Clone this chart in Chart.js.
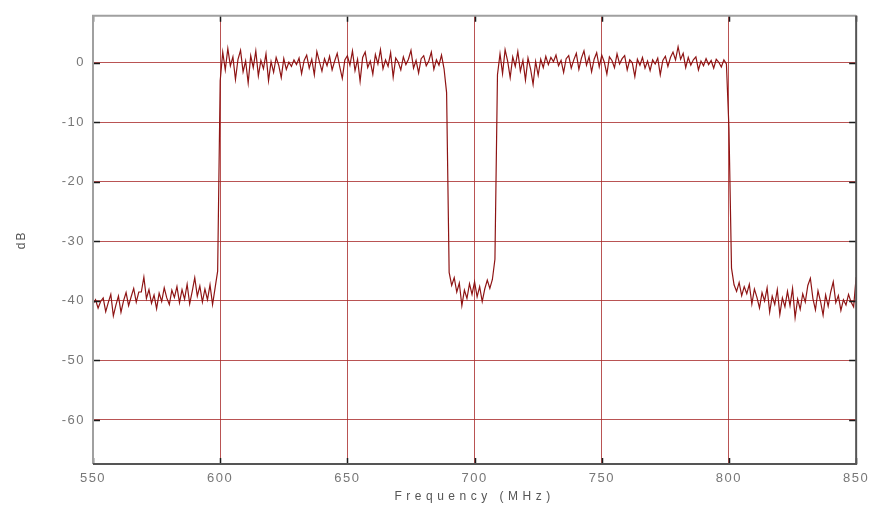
<!DOCTYPE html>
<html><head><meta charset="utf-8">
<script src="https://cdn.jsdelivr.net/npm/chart.js@4"></script>
<style>html,body{margin:0;padding:0;background:#fff}canvas{display:block}</style>
</head><body>
<canvas id="c" width="874" height="511"></canvas>
<script>
// Sweep: 550..850 MHz, one reading per MHz
const freqStart = 550;
const freqStep = 1;

// 550-599 MHz (lower stop band)
const lowStop = [
 -40.5,-39.8,-41.2,-40.1,-39.5,-41.8,-40.3,-38.9,-42.5,-40.7,
 -39.2,-41.9,-40.0,-38.6,-40.8,-39.3,-37.9,-40.2,-38.5,-38.5,
 -36.0,-39.6,-38.1,-40.4,-39.0,-41.3,-38.7,-40.1,-37.8,-39.5,
 -40.6,-38.2,-39.4,-37.6,-40.3,-38.1,-39.7,-37.2,-40.5,-38.4,
 -36.1,-39.2,-37.5,-40.2,-38.0,-39.8,-37.3,-40.6,-37.8,-35.0
];
// 600-689 MHz (first pass band)
const passA = [
 -3.0, 1.8,-1.2, 2.4,-0.5, 1.0,-2.8, 0.6, 2.1,-1.5,
  0.3,-3.4, 1.2,-0.8, 2.0,-2.2, 0.4,-1.0, 1.5,-3.0,
  0.2,-1.6, 0.9,-0.4,-2.5, 0.7,-1.1, 0.1,-0.6, 0.5,
 -0.3, 0.8,-1.8, 0.4, 1.3,-0.9, 0.6,-2.0, 1.9, 0.2,
 -1.4, 0.7,-0.5, 1.1,-1.2, 0.3, 1.6,-0.7,-2.6, 0.5,
  1.2,-0.4, 2.0,-1.3, 0.6,-3.1, 0.9, 1.8,-0.8, 0.3,
 -1.9, 1.4,-0.2, 2.2,-1.0, 0.5,-0.6, 1.7,-2.4, 0.8,
  0.1,-1.2, 1.0,-0.3, 0.6, 2.1,-0.9, 0.4,-1.7, 0.7,
  1.2,-0.5, 0.3, 1.8,-1.1, 0.5,-0.4, 1.3,-1.0,-5.0
];
// 690-709 MHz (notch)
const notch = [
 -35.2,-37.4,-36.1,-38.5,-37.0,-40.8,-38.2,-39.6,-37.1,-38.9,
 -36.8,-39.3,-37.6,-40.1,-38.0,-36.5,-37.9,-36.4,-33.0,-2.0
];
// 710-799 MHz (second pass band)
const passB = [
  1.5,-1.8, 2.2, 0.3,-2.5, 1.0,-0.6, 1.9,-1.4, 0.4,
 -2.9, 0.8,-1.0,-3.6, 0.2,-2.1, 0.6,-0.8, 1.1,-0.3,
  0.9, 0.2, 1.3,-0.5, 0.4,-1.6, 0.7, 1.2,-0.9, 0.5,
  1.6,-1.1, 0.8, 2.0,-0.4, 1.0,-1.5, 0.6, 1.7,-0.7,
  1.3, 0.1,-1.9, 1.0, 0.4,-0.8, 1.5,-0.2, 0.7, 1.2,
 -1.2, 0.5, 0.0,-2.3, 0.6,-0.4, 0.9,-0.9, 0.3,-1.3,
  0.5,-0.2, 0.8,-2.0, 0.4, 1.1,-0.6, 0.9, 1.8, 0.5,
  2.7, 0.6, 1.6,-0.8, 0.9,-0.4, 0.5, 1.0,-1.2, 0.3,
 -0.5, 0.7,-0.3, 0.4,-0.9, 0.6, 0.1,-0.7, 0.5,-0.2
];
// 800-850 MHz (upper stop band)
const highStop = [
 -11.0,-34.5,-37.3,-38.4,-36.9,-39.1,-37.6,-38.8,-37.2,-40.5,
 -38.0,-39.4,-41.2,-38.6,-40.0,-37.8,-41.9,-39.2,-40.6,-38.1,
 -42.3,-39.5,-41.0,-38.4,-40.8,-37.9,-42.8,-39.7,-41.4,-38.8,
 -40.2,-37.4,-36.2,-39.6,-41.5,-38.3,-40.1,-42.4,-39.0,-40.9,
 -38.5,-36.8,-40.3,-39.1,-41.6,-39.8,-40.7,-38.9,-40.2,-41.0,
 -36.0
];

const xTicks = [550, 600, 650, 700, 750, 800, 850];
const yTicks = [0, -10, -20, -30, -40, -50, -60];
const xLabel = 'Frequency (MHz)';
const yLabel = 'dB';

const levels = lowStop.concat(passA, notch, passB, highStop);
const points = levels.map((v, i) => ({ x: freqStart + i * freqStep, y: v }));

const spacing = {
  id: 'spacing',
  beforeDraw(chart) {
    chart.ctx.letterSpacing = '1.5px';
    [['x', '4.5px'], ['y', '2px']].forEach(([id, ls]) => {
      const s = chart.scales[id];
      if (s && !s._lsPatched) {
        const orig = s.drawTitle;
        s.drawTitle = function () {
          const c = this.ctx;
          const prev = c.letterSpacing;
          c.letterSpacing = ls;
          orig.apply(this, arguments);
          c.letterSpacing = prev;
        };
        s._lsPatched = true;
      }
    });
  }
};

const frame = {
  id: 'frame',
  afterDraw(chart) {
    const { ctx, chartArea: a, scales: { x, y } } = chart;
    ctx.save();
    ctx.strokeStyle = '#1a1a1a';
    ctx.lineWidth = 1.5;
    ctx.beginPath();
    yTicks.forEach(v => {
      const p = Math.round(y.getPixelForValue(v)) + 0.5;
      ctx.moveTo(a.left, p); ctx.lineTo(a.left + 7, p);
      ctx.moveTo(a.right, p); ctx.lineTo(a.right - 7, p);
    });
    xTicks.forEach(v => {
      const p = Math.round(x.getPixelForValue(v)) + 0.5;
      ctx.moveTo(p, a.top); ctx.lineTo(p, a.top + 6);
      ctx.moveTo(p, a.bottom); ctx.lineTo(p, a.bottom - 6);
    });
    ctx.stroke();
    ctx.lineWidth = 2;
    ctx.strokeStyle = '#a0a0a0';
    ctx.beginPath();
    ctx.moveTo(a.left, a.bottom); ctx.lineTo(a.left, a.top); ctx.lineTo(a.right, a.top);
    ctx.stroke();
    ctx.strokeStyle = '#555';
    ctx.beginPath();
    ctx.moveTo(a.right, a.top); ctx.lineTo(a.right, a.bottom); ctx.lineTo(a.left, a.bottom);
    ctx.stroke();
    ctx.restore();
  }
};

const tickFont = { family: 'Liberation Sans, Arial, sans-serif', size: 13 };
const gridCol = 'rgba(168,40,40,0.8)';

new Chart(document.getElementById('c'), {
  type: 'line',
  data: {
    datasets: [{
      data: points,
      borderColor: '#8e1414',
      borderWidth: 1.2,
      pointRadius: 0,
      tension: 0,
      fill: false
    }]
  },
  options: {
    responsive: false,
    animation: false,
    parsing: false,
    layout: { padding: { top: 14, right: 17, left: 0, bottom: 0 } },
    plugins: { legend: { display: false }, title: { display: false }, tooltip: { enabled: false } },
    scales: {
      x: {
        type: 'linear',
        min: 550, max: 850,
        afterBuildTicks: s => { s.ticks = xTicks.map(v => ({ value: v })); },
        afterFit: s => { s.height = 47; },
        ticks: { color: '#777', font: tickFont, padding: 7, maxRotation: 0, autoSkip: false },
        grid: { color: gridCol, lineWidth: 1, drawTicks: false },
        border: { display: false },
        title: { display: true, text: xLabel, color: '#555', font: { family: 'Liberation Sans, Arial, sans-serif', size: 12 }, padding: { top: 0, bottom: 7 } }
      },
      y: {
        type: 'linear',
        min: -67.4, max: 7.9,
        afterBuildTicks: s => { s.ticks = yTicks.map(v => ({ value: v })); },
        afterFit: s => { s.width = 93; },
        ticks: { color: '#777', font: tickFont, padding: 8, autoSkip: false },
        grid: { color: gridCol, lineWidth: 1, drawTicks: false },
        border: { display: false },
        title: { display: true, text: yLabel, color: '#555', font: { family: 'Liberation Sans, Arial, sans-serif', size: 12 }, padding: { top: 14, bottom: 0 } }
      }
    }
  },
  plugins: [spacing, frame]
});
</script>
</body></html>
